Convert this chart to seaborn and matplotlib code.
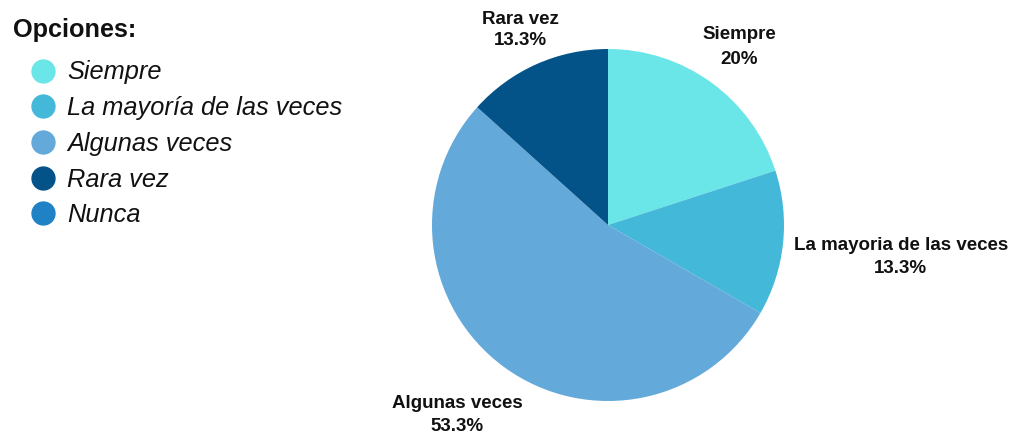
import numpy as np
import matplotlib
matplotlib.use("Agg")
import matplotlib.pyplot as plt
from matplotlib.lines import Line2D
import seaborn as sns

categories = ["Siempre", "La mayoría de las veces", "Algunas veces", "Rara vez", "Nunca"]
pie_labels = ["Siempre", "La mayoria de las veces", "Algunas veces", "Rara vez", "Nunca"]
counts = [3, 2, 8, 2, 0]
percent_labels = ["20%", "13.3%", "53.3%", "13.3%", "0%"]
colors = ["#6ae5e8", "#44b8d8", "#63a9d9", "#035288", "#1f82c5"]

sns.set_theme(style="white")
plt.rcParams["font.family"] = ["Liberation Sans", "DejaVu Sans"]

fig = plt.figure(figsize=(10.13, 4.36), dpi=100)
ax = fig.add_axes([432 / 1013, (436 - 401) / 436, 352 / 1013, 352 / 436])
pal = sns.color_palette(colors)
wedges, _ = ax.pie(counts, colors=pal, startangle=90, counterclock=False,
                   radius=1.0, wedgeprops=dict(linewidth=0))
ax.set_aspect("equal")
ax.set_xlim(-1, 1)
ax.set_ylim(-1, 1)

# label placement: radius factor, extra offset (axes data units), line spacing
label_style = {
    "Siempre": (1.27, 0.0, -0.014, 1.6),
    "La mayoria de las veces": (1.05, 0.62, -0.074, 1.47),
    "Algunas veces": (1.38, -0.045, 0.036, 1.45),
    "Rara vez": (1.23, 0.0, -0.017, 1.27),
}
total = sum(counts)
cum = 0
for name, c, pct in zip(pie_labels, counts, percent_labels):
    if c == 0:
        cum += c
        continue
    mid = 90 - 360 * (cum + c / 2) / total
    cum += c
    r, dx, dy, ls = label_style[name]
    x = r * np.cos(np.radians(mid)) + dx
    y = r * np.sin(np.radians(mid)) + dy
    ax.text(x, y, f"{name}\n{pct}", ha="center", va="center",
            fontsize=13.5, fontweight="bold", color="#111111",
            linespacing=ls, clip_on=False)

handles = [Line2D([0], [0], marker="o", linestyle="none", markersize=16.5,
                  markerfacecolor=col, markeredgecolor=col) for col in colors]
leg = fig.legend(handles, categories, loc="upper left",
                 bbox_to_anchor=(-5 / 1013, 1.0), frameon=False,
                 title="Opciones:", alignment="left",
                 prop={"size": 18.3, "style": "italic"},
                 title_fontproperties={"size": 18.2, "weight": "bold"},
                 labelspacing=0.46, handletextpad=-0.27, handlelength=2.4,
                 borderaxespad=0.3)
for t in leg.get_texts():
    t.set_color("#111111")
leg.get_title().set_color("#111111")
leg._legend_box.sep = leg._legend_box.sep + 5

fig.savefig("out.png", dpi=100)
